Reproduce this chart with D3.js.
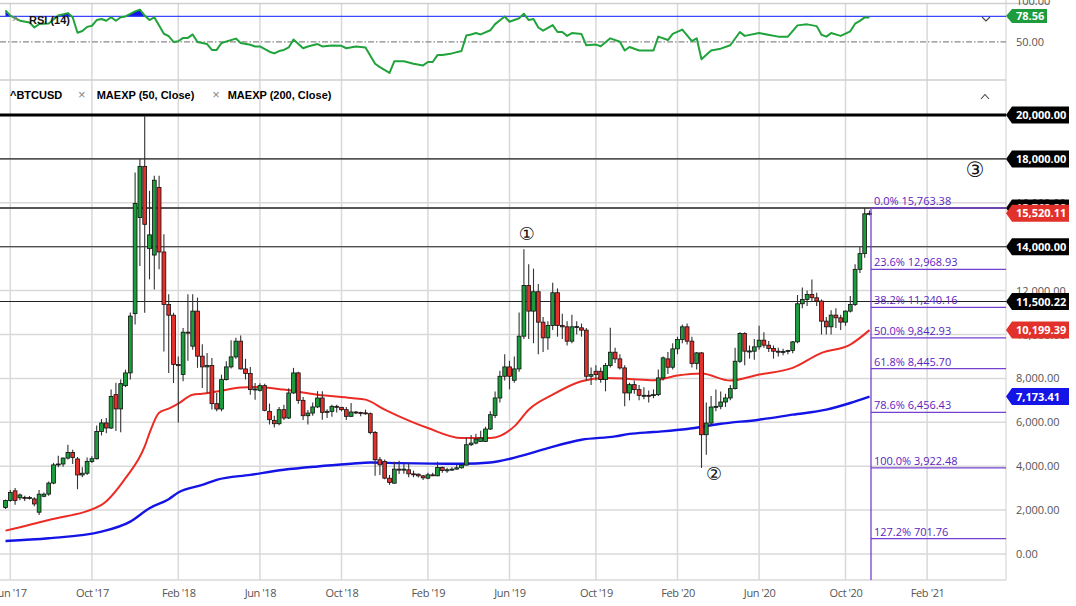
<!DOCTYPE html>
<html>
<head>
<meta charset="utf-8">
<script src="https://cdn.jsdelivr.net/npm/d3@7"></script>
<style>
    body { margin: 0; background: #fff; }
    svg { display: block; font-family: "Open Sans", sans-serif; }
</style>
</head>
<body>
<svg id="chart" width="1076" height="606"></svg>
<script>
// weekly candles, first one is the week of 2017-05-29 (week index -1)
const firstWeek = "2017-05-29";

const opens = [2114, 2434, 2877, 2560, 2580, 2550, 2510, 1904, 2630, 2730, 3230, 4060, 4100, 4370, 4620, 4330, 3600, 3680, 4215, 4340,
    5585, 5970, 5740, 7260, 6610, 7670, 8250, 10950, 15330, 17660, 13910, 13620, 16700, 13760, 11370, 10880, 8630, 8174, 10106, 9467,
    11065, 9011, 8524, 8584, 6850, 6605, 7945, 8524, 8980, 9696, 8432, 8219, 7489, 7458, 7671, 6499, 6088, 5936, 6575, 6195,
    7336, 8250, 7000, 6300, 6420, 6700, 7108, 6453, 6499, 6728, 6682, 6575, 6271, 6469, 6450, 6430, 6392, 5540, 4292, 4216,
    3455, 3227, 3866, 3840, 3836, 3653, 3638, 3562, 3455, 3607, 3562, 3942, 3805, 3836, 3866, 3927, 4049, 4977, 5053, 5129,
    5129, 5693, 6316, 7108, 8097, 8524, 7915, 8432, 9924, 12237, 11065, 11948, 10563, 9848, 10411, 11903, 10411, 10350, 9696, 10350,
    10304, 10198, 8097, 8326, 8326, 7945, 8584, 9193, 8889, 8478, 7336, 7717, 7489, 7230, 7230, 7215, 7260, 8021, 8889, 8508,
    9346, 9772, 10350, 9696, 8676, 9163, 5434, 5966, 6697, 6727, 6925, 7108, 7534, 8782, 10046, 9239, 9239, 9437, 9741, 9513,
    9361, 9239, 9193, 9230, 9269, 9665, 11400, 11598, 11826, 11674, 11522, 10609, 10350, 10883, 10761, 10563, 11065, 11370, 12968, 13685,
    15500];

const highs = [2480, 2920, 3010, 2760, 2650, 2640, 2580, 2920, 2800, 3300, 4150, 4480, 4400, 4980, 4750, 4420, 3950, 4400, 4450, 5850,
    6150, 6200, 7500, 7800, 7950, 8400, 11000, 17380, 18000, 19940, 16550, 17230, 17230, 14570, 11830, 10990, 9000, 10300, 11830, 11830,
    11680, 9560, 9160, 8930, 7340, 8170, 8780, 9740, 9850, 9950, 8890, 8520, 7790, 7780, 7760, 6850, 6300, 6700, 6800, 7550,
    8480, 8300, 7150, 6560, 6900, 7420, 7420, 6600, 6800, 6800, 6700, 6700, 6880, 6520, 6480, 6580, 6450, 5600, 4420, 4300,
    3600, 4200, 4250, 4100, 4150, 3800, 3670, 3600, 3700, 3700, 4200, 3990, 3930, 3950, 4050, 4100, 5300, 5420, 5480, 5620,
    5800, 6500, 7400, 8350, 9100, 8800, 9000, 11000, 13881, 13196, 13000, 12300, 10800, 10600, 12359, 12100, 10950, 10600, 10900, 10600,
    10500, 10300, 8500, 8600, 8500, 8700, 10304, 9400, 9100, 8600, 7800, 7900, 7700, 7600, 7450, 7500, 8400, 9000, 9200, 9600,
    9900, 10450, 10500, 9900, 9200, 9200, 6900, 7200, 7500, 7400, 7300, 7700, 9400, 10100, 10100, 9500, 9800, 10400, 10100, 9700,
    9500, 9400, 9350, 9300, 9700, 11800, 12146, 12000, 12511, 11900, 11600, 10800, 11100, 11200, 10900, 11100, 11750, 13200, 14000, 15763,
    15650];

const lows = [2050, 2380, 2240, 2450, 2420, 2480, 2180, 1780, 2580, 2650, 3180, 3950, 3980, 4300, 4100, 2950, 3500, 3600, 4150, 4300,
    5400, 5500, 5700, 5600, 5550, 7600, 7950, 10450, 13120, 10990, 12510, 12050, 12970, 9220, 8250, 7790, 5990, 7870, 8800, 9300,
    8480, 7560, 7340, 6580, 6500, 6500, 7900, 8450, 8900, 8400, 7950, 7260, 7030, 7400, 6500, 5900, 5760, 5860, 6100, 6150,
    7300, 6850, 6100, 5900, 6300, 6650, 6120, 6200, 6250, 6450, 6500, 6100, 6250, 6380, 6280, 6350, 5450, 3560, 3600, 3400,
    3150, 3200, 3640, 3660, 3500, 3500, 3480, 3370, 3400, 3550, 3540, 3700, 3700, 3800, 3850, 3890, 4040, 4920, 5000, 5100,
    5100, 5650, 6200, 6900, 7900, 7500, 7800, 8300, 9800, 9800, 9600, 9100, 9200, 9300, 10200, 9900, 9800, 9500, 9600, 10000,
    9900, 7900, 7700, 7900, 7800, 7412, 8500, 8700, 8400, 6727, 7000, 7300, 7000, 7050, 6900, 7100, 7200, 7900, 8200, 8400,
    9100, 9600, 9550, 8500, 8400, 3922, 4520, 5850, 6500, 6600, 6700, 7000, 7500, 8700, 8600, 8900, 8850, 9300, 9400, 9200,
    8900, 9000, 9050, 9100, 9150, 9600, 11200, 11300, 11500, 11300, 10000, 10000, 10000, 10300, 10200, 10400, 11000, 11300, 12800, 13500,
    15430];

const closes = [2434, 2800, 2434, 2690, 2560, 2570, 2280, 2726, 2726, 3230, 4060, 4100, 4370, 4620, 4400, 3600, 3680, 4215, 4340, 5585,
    5970, 5740, 7180, 6610, 7760, 8250, 10840, 15970, 17660, 15020, 14540, 17030, 13760, 11370, 10880, 8630, 8580, 10106, 10076, 11065,
    9011, 8524, 8584, 6850, 6605, 7945, 8524, 8980, 9696, 8432, 8219, 7489, 7519, 7671, 6545, 6119, 5936, 6575, 6195, 7336,
    8250, 7000, 6300, 6420, 6700, 7108, 6453, 6499, 6728, 6682, 6575, 6271, 6469, 6450, 6430, 6392, 5540, 4292, 4064, 3455,
    3257, 3866, 3840, 3866, 3653, 3638, 3562, 3470, 3607, 3562, 3942, 3805, 3836, 3866, 3927, 4049, 4977, 5053, 5236, 5282,
    5693, 6347, 7108, 8097, 8524, 8097, 8432, 9924, 12237, 11065, 11948, 10563, 9848, 10411, 11903, 10411, 10350, 9696, 10350, 10360,
    10198, 8097, 8173, 8173, 7945, 8584, 9193, 8889, 8478, 7336, 7717, 7489, 7230, 7230, 7215, 7260, 8021, 8935, 8508, 9346,
    9772, 10350, 9696, 8676, 9163, 5434, 5966, 6697, 6727, 6925, 7108, 7534, 8782, 10046, 9239, 9250, 9437, 9741, 9513, 9361,
    9239, 9193, 9230, 9269, 9665, 11400, 11598, 11826, 11674, 11522, 10609, 10350, 10883, 10761, 10563, 11065, 11370, 12968, 13685, 15500,
    15520];

// moving averages: [week index, value]
const ema50 = [[-1, 1064], [8, 1553], [19, 2237], [24, 3455], [28, 4900], [29, 5510], [31, 6438], [33, 6620], [35, 6850], [38, 7260],
    [40, 7300], [43, 7400], [48, 7580], [51, 7610], [57, 7489], [64, 7260], [71, 7108], [74, 7032], [78, 6575], [81, 6271],
    [87, 5738], [94, 5282], [100, 5282], [105, 5814], [108, 6575], [113, 7260], [119, 7869], [124, 8021], [129, 7976], [134, 7915],
    [139, 8128], [144, 8219], [150, 7900], [156, 8173], [163, 8478], [169, 9163], [175, 9543], [179, 10199.39]];

const ema200 = [[-1, 590], [8, 715], [19, 1019], [25, 1475], [29, 2087], [33, 2497], [35, 2800], [40, 3150], [43, 3379], [50, 3607],
    [57, 3836], [64, 3988], [71, 4109], [75, 4170], [81, 4140], [94, 4109], [100, 4170], [106, 4444], [112, 4825], [119, 5205],
    [126, 5358], [129, 5470], [134, 5556], [141, 5693], [148, 5936], [156, 6119], [163, 6347], [170, 6575], [175, 6880], [179, 7173.41]];

// RSI(14): [week index, value]
const rsi = [[-1, 87.2], [0, 81], [2, 74.9], [4, 72.9], [5, 66.9], [6, 70.9], [8, 71.7], [10, 81], [12, 83.9], [13, 79],
    [14, 60.7], [15, 62.8], [16, 67.6], [17, 68.9], [18, 75.7], [19, 77], [20, 74.9], [21, 79], [22, 74.9], [23, 79],
    [24, 79.9], [25, 83.1], [26, 86], [27, 88], [28, 81], [29, 75.7], [30, 79], [32, 59.5], [33, 56.6], [34, 49.8],
    [35, 50.6], [36, 54.6], [37, 54.6], [38, 58.7], [39, 49.8], [41, 47.3], [42, 40.4], [43, 40.4], [44, 48.6], [47, 53.8],
    [48, 48.6], [50, 46.5], [51, 44.5], [52, 44.5], [54, 38.3], [55, 36.3], [56, 39.1], [57, 40.4], [58, 43.3], [59, 52.6],
    [61, 42.4], [62, 44.5], [64, 47.3], [65, 44.5], [67, 45.6], [69, 45.3], [70, 42.4], [72, 44.5], [74, 43.3], [76, 24.1],
    [77, 20.1], [79, 13.2], [80, 27], [82, 27], [84, 24.1], [86, 22.1], [87, 26.2], [88, 26.2], [89, 34.3], [90, 34.3],
    [92, 36.3], [94, 39.1], [95, 57.4], [96, 58.7], [97, 60.3], [98, 58.7], [100, 63.6], [101, 70.9], [103, 79.9], [104, 73.7],
    [106, 77.8], [107, 83.1], [108, 75.7], [109, 77], [110, 66.9], [111, 63.2], [113, 69.7], [114, 61.6], [115, 61.6], [116, 57],
    [117, 60.3], [119, 59.1], [120, 45.9], [122, 46.7], [123, 44.7], [125, 54.1], [127, 50], [128, 39.7], [129, 43.9], [131, 39.7],
    [134, 39.7], [135, 56.1], [137, 52.1], [138, 59.4], [140, 64.4], [142, 50.8], [143, 54.1], [144, 29.5], [146, 39.7], [148, 41.9],
    [150, 45.9], [152, 61.6], [153, 57], [156, 60.3], [160, 56.1], [162, 56.1], [164, 69.4], [166, 70.6], [168, 68.5], [169, 58.3],
    [170, 56.1], [171, 60.3], [173, 57], [175, 62.4], [176, 71.4], [177, 74.7], [178, 78.8], [179, 78.56]];

const xTickDates = ["2017-06-05", "2017-10-02", "2018-02-05", "2018-06-04", "2018-10-01", "2019-02-04",
    "2019-06-03", "2019-10-07", "2020-02-03", "2020-06-01", "2020-10-05", "2021-02-01"];
const xTickLabels = ["Jun '17", "Oct '17", "Feb '18", "Jun '18", "Oct '18", "Feb '19",
    "Jun '19", "Oct '19", "Feb '20", "Jun '20", "Oct '20", "Feb '21"];

const yTicks = [0, 2000, 4000, 6000, 8000, 10000, 12000, 14000, 16000, 18000, 20000];
const levelLines = [20000, 18000, 15763.38, 14000, 11500.22];
const fibPct = ["0.0%", "23.6%", "38.2%", "50.0%", "61.8%", "78.6%", "100.0%", "127.2%"];
const fibValues = [15763.38, 12968.93, 11240.16, 9842.93, 8445.70, 6456.43, 3922.48, 701.76];

// wave counts: [label, week index, price]
const waveMarks = [["\u2460", 107.6, 14620], ["\u2461", 146.6, 3650], ["\u2462", 201, 17500]];

const lastClose = 15520.11;
const lastRsi = 78.56;

// ---------------------------------------------------------------
const plotRight = 1006;
const rsiTop = 3.5, rsiBottom = 80;
const mainTop = 80, mainBottom = 580;
const green = "#1e9b3c", red = "#e2302a", blue = "#1414e6", purple = "#7440d0";

const svg = d3.select("#chart");
const parseDay = d3.timeParse("%Y-%m-%d");
const week0 = parseDay("2017-06-05");

const x = d3.scaleTime()
    .domain([week0, parseDay("2021-02-01")])
    .range([10.3, 927.1]);
const y = d3.scaleLinear().domain([0, 20000]).range([554, 115]);
const yr = d3.scaleLinear().domain([50, 80]).range([41.8, 16.4]);

function weekX(k) {
    const whole = Math.floor(k);
    const base = x(d3.timeMonday.offset(week0, whole));
    return base + (k - whole) * (x(d3.timeMonday.offset(week0, whole + 1)) - base);
}

const fmt = d3.format(",.2f");

function addClip(id, x0, y0, w, h) {
    svg.append("clipPath").attr("id", id)
        .append("rect").attr("x", x0).attr("y", y0).attr("width", w).attr("height", h);
}

function drawGrid() {
    const g = svg.append("g").attr("class", "grid");
    xTickDates.forEach((d) => {
        const xx = x(parseDay(d));
        g.append("line")
            .attr("x1", xx).attr("x2", xx)
            .attr("y1", rsiTop).attr("y2", mainBottom)
            .attr("stroke", "#d9d9d9").attr("stroke-width", 1.5);
    });
    yTicks.forEach((v) => {
        g.append("line")
            .attr("x1", 0).attr("x2", plotRight)
            .attr("y1", y(v)).attr("y2", y(v))
            .attr("stroke", "#d9d9d9").attr("stroke-width", 1.5);
    });
    // panel borders
    g.append("line").attr("x1", 0).attr("x2", 1050).attr("y1", rsiTop).attr("y2", rsiTop)
        .attr("stroke", "#cfcfcf").attr("stroke-width", 1.5);
    g.append("line").attr("x1", 0).attr("x2", plotRight).attr("y1", rsiBottom).attr("y2", rsiBottom)
        .attr("stroke", "#cfcfcf").attr("stroke-width", 1.5);
    g.append("line").attr("x1", 0).attr("x2", plotRight).attr("y1", mainBottom).attr("y2", mainBottom)
        .attr("stroke", "#d9d9d9").attr("stroke-width", 1.5);
    g.append("line").attr("x1", plotRight).attr("x2", plotRight).attr("y1", 0).attr("y2", mainBottom)
        .attr("stroke", "#d0d0d0").attr("stroke-width", 1);
}

function addTag(cy, label, fill, right, h) {
    right = right || 1069;
    h = h || 17;
    const g = svg.append("g");
    g.append("path")
        .attr("d", `M${plotRight},${cy} L${plotRight + 6},${cy - h / 2} L${right},${cy - h / 2} ` +
            `L${right},${cy + h / 2} L${plotRight + 6},${cy + h / 2} Z`)
        .attr("fill", fill);
    g.append("text")
        .attr("x", 1016).attr("y", cy + 4)
        .attr("font-size", 11).attr("font-weight", "bold")
        .attr("fill", "#fff").text(label);
}

function drawRsi() {
    addClip("rsiClip", 0, rsiTop, plotRight, rsiBottom - rsiTop);
    addClip("rsiHigh", 0, rsiTop, plotRight, yr(80) - rsiTop);
    const g = svg.append("g").attr("clip-path", "url(#rsiClip)");
    const rx = (d) => weekX(d[0]);

    g.append("path").datum(rsi)
        .attr("clip-path", "url(#rsiHigh)")
        .attr("fill", blue)
        .attr("d", d3.area().x(rx).y0(yr(80)).y1((d) => yr(d[1])));

    g.append("line").attr("x1", 0).attr("x2", plotRight)
        .attr("y1", yr(50)).attr("y2", yr(50))
        .attr("stroke", "#8a8a8a").attr("stroke-width", 1.2)
        .attr("stroke-dasharray", "6,2,1.5,2");
    g.append("line").attr("x1", 0).attr("x2", plotRight)
        .attr("y1", yr(80)).attr("y2", yr(80))
        .attr("stroke", "#3b46ff").attr("stroke-width", 1.2);

    g.append("path").datum(rsi)
        .attr("fill", "none")
        .attr("stroke", "#21a33c").attr("stroke-width", 2)
        .attr("stroke-linejoin", "round")
        .attr("d", d3.line().x(rx).y((d) => yr(d[1])));

    // axis text for the RSI panel
    svg.append("text").attr("x", 1016).attr("y", 5)
        .attr("font-size", 11).attr("fill", "#555").text("100.00");
    svg.append("text").attr("x", 1016).attr("y", yr(50) + 4)
        .attr("font-size", 11).attr("fill", "#555").text("50.00");
    addTag(16, lastRsi.toFixed(2), green, 1047, 14);

    svg.append("text").attr("x", 15.5).attr("y", 23).attr("text-anchor", "middle")
        .attr("font-size", 13).attr("fill", "#888").text("×");
    svg.append("text").attr("x", 29).attr("y", 23.5)
        .attr("font-family", "Liberation Sans, Arial, sans-serif")
        .attr("font-weight", "bold").attr("font-size", 11).attr("fill", "#111")
        .text("RSI (14)");
    svg.append("path").attr("d", "M982,17 L986,21 L990,17")
        .attr("fill", "none").attr("stroke", "#444").attr("stroke-width", 1.1);
}

function drawMain() {
    addClip("mainClip", 0, mainTop, plotRight, mainBottom - mainTop);
    const g = svg.append("g").attr("clip-path", "url(#mainClip)");

    // horizontal levels
    levelLines.forEach((v, i) => {
        g.append("line")
            .attr("x1", 0).attr("x2", plotRight)
            .attr("y1", y(v)).attr("y2", y(v))
            .attr("stroke", i == 0 ? "#000" : i == 2 ? "#555" : "#222")
            .attr("stroke-width", i == 0 ? 3 : i == 2 ? 1.8 : 1.1);
    });

    // moving averages
    const maLine = d3.line().x((d) => weekX(d[0])).y((d) => y(d[1])).curve(d3.curveMonotoneX);
    g.append("path").datum(ema200).attr("fill", "none")
        .attr("stroke", blue).attr("stroke-width", 2.4).attr("d", maLine);
    g.append("path").datum(ema50).attr("fill", "none")
        .attr("stroke", "#ec2c24").attr("stroke-width", 2).attr("d", maLine);

    // candles
    const candles = g.append("g");
    closes.forEach((c, i) => {
        const k = i - 1;
        const cx = weekX(k);
        const o = opens[i];
        candles.append("line")
            .attr("x1", cx).attr("x2", cx)
            .attr("y1", y(highs[i])).attr("y2", y(lows[i]))
            .attr("stroke", "#333").attr("stroke-width", 1.1);
        const top = y(Math.max(o, c));
        const hgt = Math.max(1, Math.abs(y(o) - y(c)));
        candles.append("rect")
            .attr("x", cx - 1.9).attr("width", 3.8)
            .attr("y", top).attr("height", hgt)
            .attr("fill", c >= o ? green : red)
            .attr("stroke", "#111").attr("stroke-width", 0.8);
    });

    // fibonacci retracement
    const fx = weekX(179) + 1.5;
    const fib = g.append("g");
    fib.append("line")
        .attr("x1", fx).attr("x2", fx)
        .attr("y1", y(fibValues[0])).attr("y2", mainBottom + 2)
        .attr("stroke", purple).attr("stroke-width", 1.3);
    fibValues.forEach((v, i) => {
        fib.append("line")
            .attr("x1", fx).attr("x2", plotRight)
            .attr("y1", y(v)).attr("y2", y(v))
            .attr("stroke", purple).attr("stroke-width", 1.3);
        fib.append("text")
            .attr("x", fx + 3).attr("y", y(v) - 3)
            .attr("font-size", 11).attr("fill", "#5a24c0")
            .text(fibPct[i] + " " + fmt(v));
    });

    // wave counts
    waveMarks.forEach((m, i) => {
        g.append("text")
            .attr("x", weekX(m[1])).attr("y", y(m[2]))
            .attr("text-anchor", "middle")
            .attr("dominant-baseline", "central")
            .attr("font-family", "DejaVu Sans")
            .attr("font-size", i == 2 ? 21 : 18).attr("fill", "#111")
            .text(m[0]);
    });

    // legend row
    const lg = svg.append("g")
        .attr("font-family", "Liberation Sans, Arial, sans-serif")
        .attr("font-size", 11);
    lg.append("text").attr("x", 10).attr("y", 99).attr("font-weight", "bold").text("^BTCUSD");
    lg.append("text").attr("x", 81.7).attr("y", 99).attr("text-anchor", "middle")
        .attr("fill", "#888").attr("font-size", 13).text("×");
    lg.append("text").attr("x", 96.7).attr("y", 99).attr("font-weight", "bold").text("MAEXP (50, Close)");
    lg.append("text").attr("x", 216).attr("y", 99).attr("text-anchor", "middle")
        .attr("fill", "#888").attr("font-size", 13).text("×");
    lg.append("text").attr("x", 227.7).attr("y", 99).attr("font-weight", "bold").text("MAEXP (200, Close)");
    svg.append("path").attr("d", "M981,99 L985,94.5 L989,99")
        .attr("fill", "none").attr("stroke", "#444").attr("stroke-width", 1.1);
}

function drawAxes() {
    // price axis on the right
    const ay = svg.append("g")
        .attr("transform", `translate(1010,0)`)
        .call(d3.axisRight(y).tickValues(yTicks).tickFormat(fmt).tickSize(0).tickPadding(6));
    ay.select(".domain").remove();
    ay.selectAll("text")
        .attr("font-family", "Open Sans").attr("font-size", 11).attr("fill", "#555");

    // level tags on top
    levelLines.forEach((v) => addTag(y(v), fmt(v), "#000"));
    addTag(y(10199.39), fmt(10199.39), red);
    addTag(y(7173.41), fmt(7173.41), blue);
    addTag(y(lastClose), fmt(lastClose), red);

    // time axis
    const ax = svg.append("g")
        .attr("transform", `translate(0,${mainBottom})`)
        .call(d3.axisBottom(x)
            .tickValues(xTickDates.map(parseDay))
            .tickFormat((d, i) => xTickLabels[i])
            .tickSize(0).tickPadding(9));
    ax.select(".domain").remove();
    ax.selectAll("text")
        .attr("font-family", "Open Sans").attr("font-size", 11)
        .attr("fill", "#555").attr("letter-spacing", "-0.4");
}

drawGrid();
drawRsi();
drawMain();
drawAxes();
</script>
</body>
</html>
